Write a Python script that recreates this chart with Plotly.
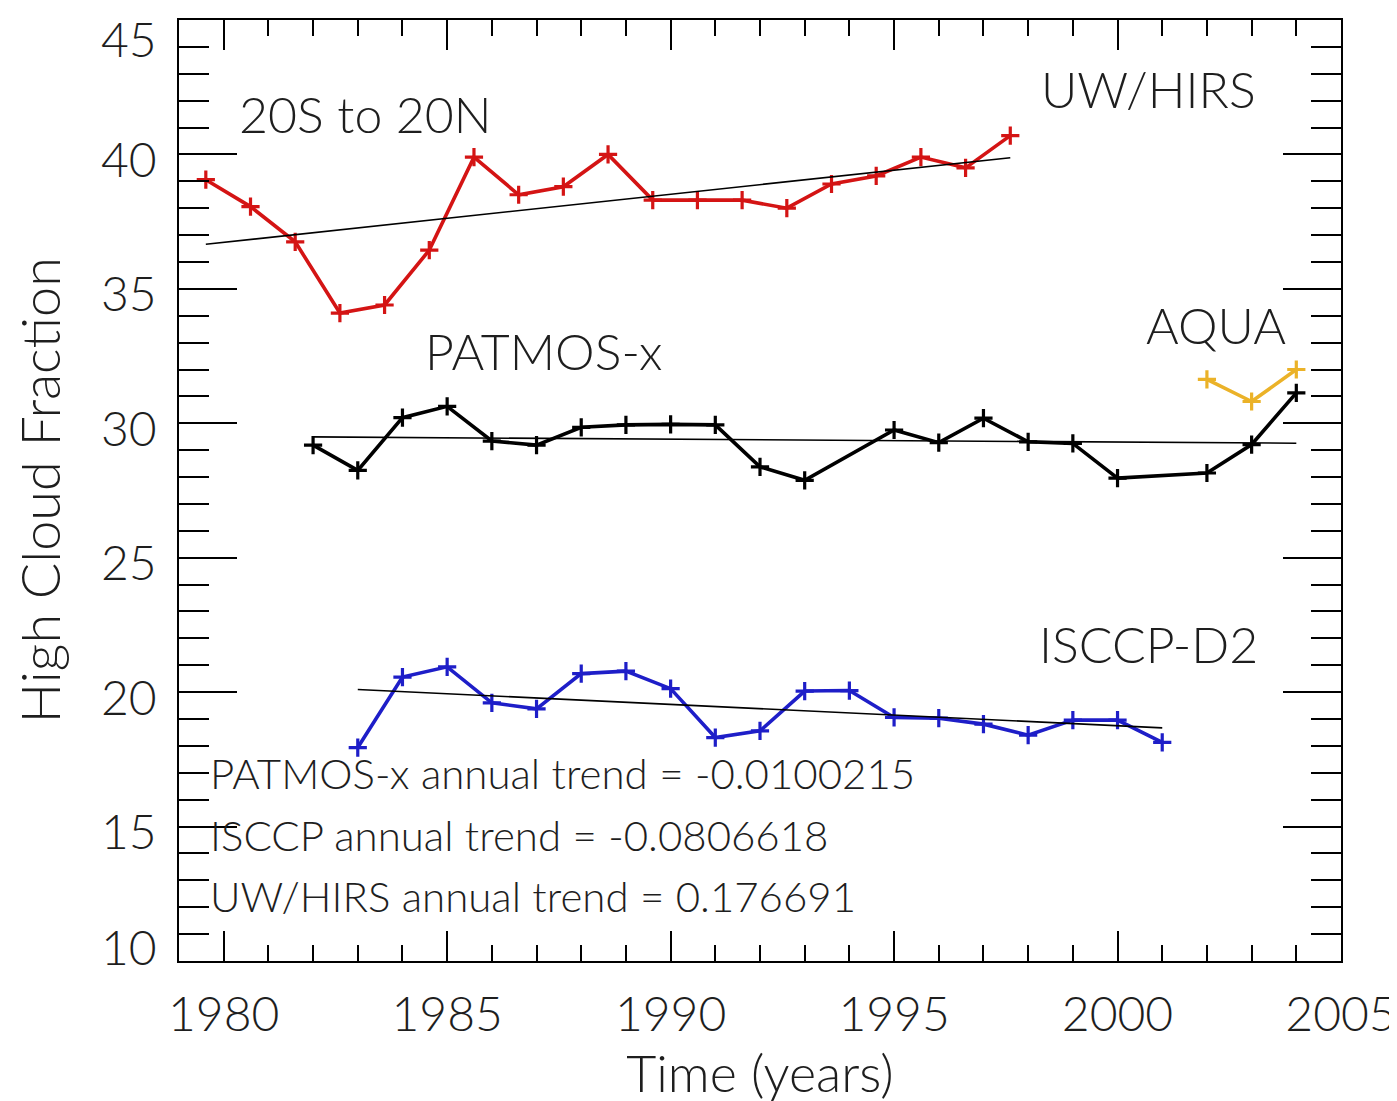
import numpy as np
import plotly.graph_objects as go

# ---- data ----
uw_years = [1979.6, 1980.6, 1981.6, 1982.6, 1983.6, 1984.6, 1985.6, 1986.6, 1987.6, 1988.6,
            1989.6, 1990.6, 1991.6, 1992.6, 1993.6, 1994.6, 1995.6, 1996.6, 1997.6]
uw_values = [39.06, 38.06, 36.75, 34.1, 34.4, 36.44, 39.9, 38.5, 38.8, 40.0,
             38.3, 38.3, 38.3, 38.0, 38.9, 39.2, 39.9, 39.5, 40.7]

patmos_years = [1982, 1983, 1984, 1985, 1986, 1987, 1988, 1989, 1990, 1991, 1992, 1993,
                1995, 1996, 1997, 1998, 1999, 2000, 2002, 2003, 2004]
patmos_values = [29.19, 28.25, 30.21, 30.63, 29.34, 29.19, 29.85, 29.94, 29.96, 29.94, 28.38, 27.88,
                 29.75, 29.28, 30.19, 29.31, 29.25, 27.96, 28.15, 29.21, 31.13]

isccp_years = [1983, 1984, 1985, 1986, 1987, 1988, 1989, 1990, 1991, 1992,
               1993, 1994, 1995, 1996, 1997, 1998, 1999, 2000, 2001]
isccp_values = [17.94, 20.56, 20.94, 19.6, 19.38, 20.69, 20.78, 20.13, 18.31, 18.56,
                20.04, 20.06, 19.06, 19.03, 18.81, 18.4, 18.96, 18.96, 18.13]

aqua_years = [2002, 2003, 2004]
aqua_values = [31.63, 30.81, 32.0]

x_ticks = [1980, 1985, 1990, 1995, 2000, 2005]
y_ticks = [10, 15, 20, 25, 30, 35, 40, 45]

series_labels = ["20S to 20N", "UW/HIRS", "PATMOS-x", "AQUA", "ISCCP-D2"]
label_x = [1980.3, 1998.25, 1984.45, 2000.6, 1998.2]
label_y = [41.5, 42.45, 32.7, 33.65, 21.8]

trend_texts = ["PATMOS-x annual trend = -0.0100215",
               "ISCCP annual trend = -0.0806618",
               "UW/HIRS annual trend = 0.176691"]
trend_text_x = [1979.65, 1979.65, 1979.65]
trend_text_y = [16.98, 14.7, 12.43]

RED = "rgb(212,20,20)"
BLACK = "rgb(0,0,0)"
BLUE = "rgb(30,30,200)"
GOLD = "rgb(235,178,40)"
FONT = "Lato"
TXT = "rgb(30,30,30)"

fig = go.Figure()


def add_series(xs, ys, color):
    fig.add_trace(go.Scatter(
        x=xs, y=ys, mode="lines+markers",
        line=dict(color=color, width=3.6),
        marker=dict(symbol="cross-thin", size=13, line=dict(color=color, width=3.2)),
        showlegend=False, hoverinfo="x+y"))


def add_trend(xs, ys):
    xs = np.asarray(xs, dtype=float)
    k, b = np.polyfit(xs, np.asarray(ys, dtype=float), 1)
    xe = np.array([xs.min(), xs.max()])
    fig.add_trace(go.Scatter(x=xe, y=k * xe + b, mode="lines",
                             line=dict(color=BLACK, width=1.6),
                             showlegend=False, hoverinfo="skip"))


add_series(uw_years, uw_values, RED)
add_series(patmos_years, patmos_values, BLACK)
add_series(isccp_years, isccp_values, BLUE)
add_series(aqua_years, aqua_values, GOLD)
add_trend(uw_years, uw_values)
add_trend(patmos_years, patmos_values)
add_trend(isccp_years, isccp_values)

for t, x, y in zip(series_labels, label_x, label_y):
    fig.add_annotation(x=x, y=y, text=t, showarrow=False, xanchor="left", yanchor="middle",
                       font=dict(family=FONT, size=50, color=TXT, weight=300))
for t, x, y in zip(trend_texts, trend_text_x, trend_text_y):
    fig.add_annotation(x=x, y=y, text=t, showarrow=False, xanchor="left", yanchor="middle",
                       font=dict(family=FONT, size=42, color=TXT, weight=300))

# y tick labels (IDL-style: the end labels are pulled inside the axis span)
ymin, ymax = min(y_ticks), max(y_ticks)
for v in y_ticks:
    shift = -4
    if v == ymax:
        shift = -18
    elif v == ymin:
        shift = 15
    fig.add_annotation(xref="paper", x=0, yref="y", y=v, text=str(v), showarrow=False,
                       xanchor="right", yanchor="middle", xshift=-20, yshift=shift,
                       font=dict(family=FONT, size=48, color=TXT, weight=300))

# y axis title
fig.add_annotation(xref="paper", x=0, yref="paper", y=0.5, text="High Cloud Fraction",
                   textangle=-90, showarrow=False, xanchor="center", yanchor="middle",
                   xshift=-140, font=dict(family=FONT, size=54, color=TXT, weight=300))

axis_common = dict(showgrid=False, zeroline=False, showline=True, linecolor=BLACK, linewidth=2,
                   mirror="ticks", ticks="inside", tickcolor=BLACK, tickwidth=2, automargin=False)

fig.update_xaxes(range=[1979, 2005], tickvals=x_ticks, ticklen=30,
                 minor=dict(dtick=1, ticks="inside", ticklen=16, tickcolor=BLACK, tickwidth=2),
                 ticklabelstandoff=10, ticklabeloverflow="allow",
                 tickfont=dict(family=FONT, size=48, color=TXT, weight=300),
                 title=dict(text="Time (years)", standoff=0,
                            font=dict(family=FONT, size=52, color=TXT, weight=300)),
                 **axis_common)
fig.update_yaxes(range=[10, 45], tickvals=y_ticks, ticklen=58, showticklabels=False,
                 minor=dict(dtick=1, ticks="inside", ticklen=30, tickcolor=BLACK, tickwidth=2),
                 **axis_common)

fig.update_layout(width=1397, height=1101, margin=dict(l=171, r=64, t=12, b=148),
                  plot_bgcolor="white", paper_bgcolor="white")

fig.write_html("out.html")
